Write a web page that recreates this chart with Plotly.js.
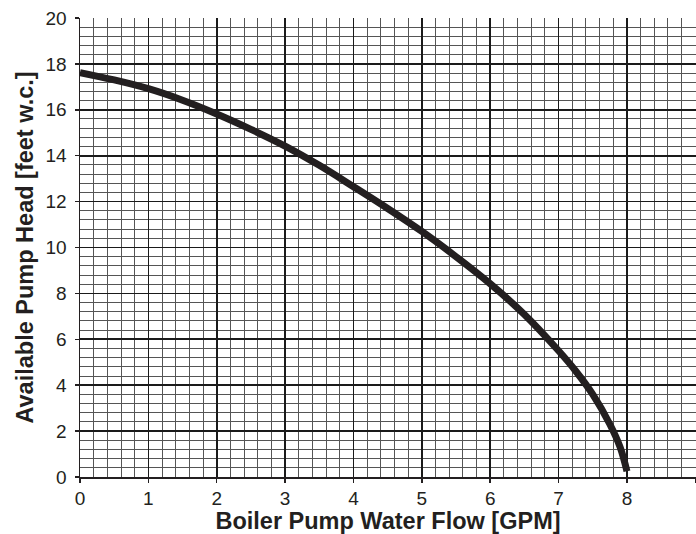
<!DOCTYPE html>
<html>
<head>
<meta charset="utf-8">
<script src="https://cdn.plot.ly/plotly-3.0.1.min.js"></script>
<style>html,body{margin:0;padding:0;background:#fff;overflow:hidden}</style>
</head>
<body>
<div id="chart" style="width:696px;height:534px"></div>
<script>
const flowGPM = [0, 0.5, 1, 1.5, 2, 2.5, 3, 3.5, 4, 4.5, 5, 5.5, 6, 6.5, 7, 7.25, 7.5, 7.75, 7.9, 8];
const headFt  = [17.62, 17.3, 16.92, 16.42, 15.82, 15.15, 14.42, 13.58, 12.65, 11.7, 10.7, 9.6, 8.42, 7.08, 5.5, 4.62, 3.6, 2.3, 1.3, 0.25];
const xTitle = 'Boiler Pump Water Flow [GPM]';
const yTitle = 'Available Pump Head [feet w.c.]';

const ink = '#231f20';
const trace = {
  x: flowGPM, y: headFt, type: 'scatter', mode: 'lines',
  line: {color: ink, width: 7, shape: 'spline', smoothing: 1},
  hoverinfo: 'skip'
};
const fam = 'Liberation Sans, Arial, sans-serif';
const font = {family: fam, size: 19, color: ink};
const titleFont = {family: fam, size: 23.5, color: ink, weight: 'bold'};
const layout = {
  width: 696, height: 534,
  margin: {l: 80, r: 0, t: 18, b: 57},
  paper_bgcolor: '#fff', plot_bgcolor: '#fff',
  showlegend: false,
  font: font,
  xaxis: {
    range: [0, 9.01], dtick: 1, tick0: 0,
    showgrid: true, gridcolor: '#1a1a1a', gridwidth: 1.6,
    minor: {dtick: 0.2, showgrid: true, gridcolor: '#555', gridwidth: 1, ticks: ''},
    zeroline: false, showline: true, linecolor: ink, linewidth: 1.5,
    ticks: 'outside', ticklen: 4, tickcolor: ink, tickwidth: 1.5,
    tickfont: font, ticklabelstandoff: 0,
    title: {text: xTitle, font: titleFont, standoff: 1},
    automargin: false, fixedrange: true
  },
  yaxis: {
    range: [0, 20], dtick: 2, tick0: 0,
    showgrid: true, gridcolor: '#1a1a1a', gridwidth: 1.6,
    minor: {dtick: 0.4, showgrid: true, gridcolor: '#555', gridwidth: 1, ticks: ''},
    zeroline: false, showline: true, linecolor: ink, linewidth: 1.5,
    ticks: 'outside', ticklen: 4, tickcolor: ink, tickwidth: 1.5,
    tickfont: font, ticklabelstandoff: 4,
    title: {text: yTitle, font: titleFont, standoff: 5},
    automargin: false, fixedrange: true
  }
};
Plotly.newPlot('chart', [trace], layout, {displayModeBar: false, staticPlot: true});
</script>
</body>
</html>
